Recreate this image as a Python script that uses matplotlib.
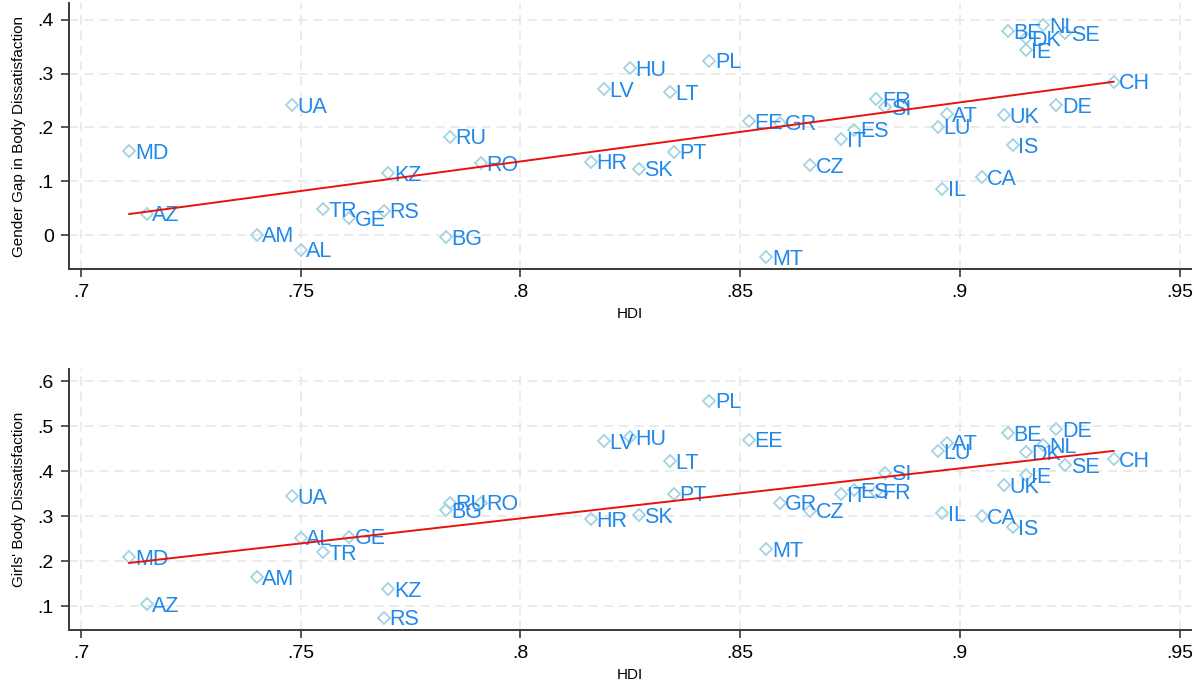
import numpy as np
import matplotlib
matplotlib.use("Agg")
from matplotlib import pyplot as plt

plt.rcParams['font.family'] = ['Liberation Sans', 'DejaVu Sans']

# country codes and HDI
countries = ['MD', 'AZ', 'AM', 'UA', 'AL', 'TR', 'GE', 'RS', 'KZ', 'RU',
             'BG', 'RO', 'HR', 'SK', 'PT', 'LV', 'HU', 'LT', 'PL', 'EE',
             'GR', 'CZ', 'IT', 'ES', 'MT', 'FR', 'SI', 'AT', 'LU', 'UK',
             'DE', 'CH', 'IS', 'CA', 'IL', 'BE', 'NL', 'DK', 'IE', 'SE']
hdi = [0.711, 0.715, 0.740, 0.748, 0.750, 0.755, 0.761, 0.769, 0.770, 0.784,
       0.783, 0.791, 0.816, 0.827, 0.835, 0.819, 0.825, 0.834, 0.843, 0.852,
       0.859, 0.866, 0.873, 0.876, 0.856, 0.881, 0.883, 0.897, 0.895, 0.910,
       0.922, 0.935, 0.912, 0.905, 0.896, 0.911, 0.919, 0.915, 0.915, 0.924]

# gender gap in body dissatisfaction
gap = [0.156, 0.040, 0.001, 0.241, -0.027, 0.048, 0.031, 0.045, 0.115, 0.183,
       -0.004, 0.134, 0.136, 0.123, 0.155, 0.271, 0.310, 0.265, 0.324, 0.212,
       0.209, 0.130, 0.178, 0.196, -0.041, 0.252, 0.238, 0.225, 0.201, 0.223,
       0.241, 0.285, 0.167, 0.108, 0.086, 0.379, 0.390, 0.366, 0.343, 0.375]

# girls' body dissatisfaction
girls = [0.209, 0.104, 0.164, 0.344, 0.252, 0.220, 0.254, 0.074, 0.138, 0.330,
         0.313, 0.330, 0.293, 0.302, 0.350, 0.467, 0.476, 0.422, 0.557, 0.470,
         0.330, 0.312, 0.349, 0.358, 0.227, 0.354, 0.397, 0.463, 0.445, 0.369,
         0.493, 0.427, 0.276, 0.300, 0.306, 0.485, 0.458, 0.442, 0.391, 0.413]

x_ticks = [0.7, 0.75, 0.8, 0.85, 0.9, 0.95]
x_ticklabels = ['.7', '.75', '.8', '.85', '.9', '.95']
gap_ticks = [0, 0.1, 0.2, 0.3, 0.4]
gap_ticklabels = ['0', '.1', '.2', '.3', '.4']
girls_ticks = [0.1, 0.2, 0.3, 0.4, 0.5, 0.6]
girls_ticklabels = ['.1', '.2', '.3', '.4', '.5', '.6']

marker_col = '#a3d3e3'
label_col = '#2088ea'
spine_col = '#3a3a3a'

fig = plt.figure(figsize=(11.94, 6.83), dpi=100)
ax1 = fig.add_axes([0.0578, 0.6061, 0.940, 0.3895])
ax2 = fig.add_axes([0.0578, 0.0776, 0.940, 0.3821])


def panel(ax, y, yticks, yticklabels, ylim, ylabel):
    ax.plot(hdi, y, linestyle='none', marker='D', markersize=6.5,
            markerfacecolor='none', markeredgecolor=marker_col,
            markeredgewidth=1.3, zorder=3)
    for c, xv, yv in zip(countries, hdi, y):
        ax.annotate(c, (xv, yv), xytext=(4, -1.5), textcoords='offset points',
                    ha='left', va='center', fontsize=15.5, color=label_col,
                    zorder=4)
    # linear fit
    b, a = np.polyfit(hdi, y, 1)
    xs = np.array([min(hdi), max(hdi)])
    ax.plot(xs, a + b * xs, color='#e8120c', lw=1.4, zorder=5)

    ax.set_xlim(0.6973, 0.9527)
    ax.set_ylim(*ylim)
    ax.set_xticks(x_ticks)
    ax.set_xticklabels(x_ticklabels)
    ax.set_yticks(yticks)
    ax.set_yticklabels(yticklabels)
    ax.grid(True, color='#e6e6e6', linestyle=(0, (6, 4)), lw=1.1, zorder=0)
    ax.set_axisbelow(True)
    for s in ['top', 'right']:
        ax.spines[s].set_visible(False)
    for s in ['left', 'bottom']:
        ax.spines[s].set_color(spine_col)
        ax.spines[s].set_linewidth(1.4)
    ax.tick_params(axis='both', direction='out', length=6, width=1.2,
                   color=spine_col, labelsize=14, pad=5)
    ax.set_xlabel('HDI', fontsize=11, labelpad=4)
    ax.set_ylabel(ylabel, fontsize=11, labelpad=8)


panel(ax1, gap, gap_ticks, gap_ticklabels, (-0.063, 0.431),
      'Gender Gap in Body Dissatisfaction')
panel(ax2, girls, girls_ticks, girls_ticklabels, (0.047, 0.627),
      "Girls' Body Dissatisfaction")

fig.savefig('out.png', dpi=100)
